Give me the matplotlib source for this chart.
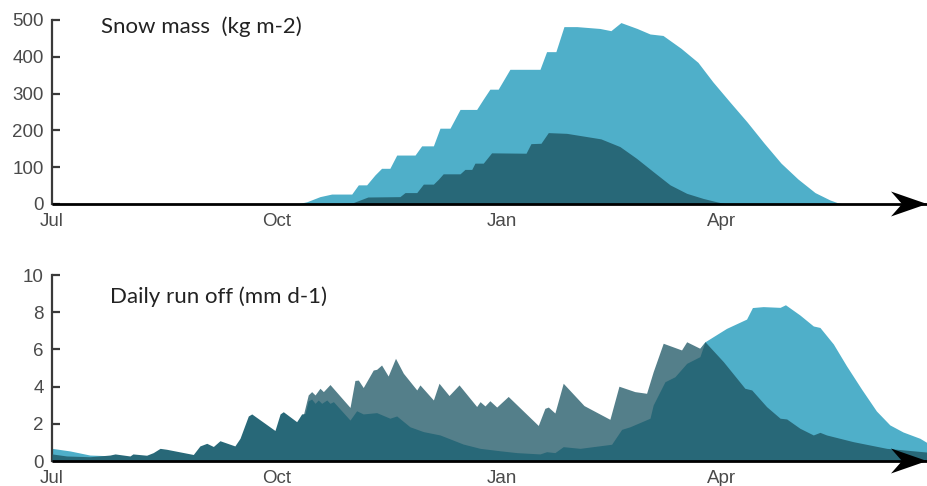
import matplotlib
matplotlib.use("Agg")
import matplotlib.pyplot as plt
import numpy as np
from matplotlib.patches import Polygon
from matplotlib import transforms

# ---------------- data (days since 1 Jul) ----------------
month_ticks = [0, 92, 184, 274]
month_labels = ["Jul", "Oct", "Jan", "Apr"]
x_end = 357.9

# Snow mass (kg m-2)
snow_light_days = [100, 104.2, 109.6, 114.4, 122.6, 125.3, 128.7, 132.1, 134.8, 138.2, 141.0, 148.5,
                   151.2, 156.0, 158.7, 162.8, 166.9, 173.7, 176.4, 179.1, 182.5, 187.3, 199.6, 202.3,
                   206.1, 209.4, 214.7, 224.1, 228.6, 232.7, 239.3, 244.6, 249.9, 257.3, 264.2, 270.3,
                   277.3, 284.3, 291.2, 298.2, 305.1, 312.1, 318.2, 321.1, 324]
snow_light_vals = [0, 6, 20, 27, 27, 52, 52, 79, 97, 97, 133, 133,
                   158, 158, 206, 206, 257, 257, 285, 312, 312, 366, 366, 414,
                   414, 482, 482, 477, 471, 493, 477, 462, 458, 423, 385, 332,
                   277, 223, 166, 111, 68, 31, 11, 4, 0]

snow_dark_days = [116, 123.1, 129.2, 142.3, 144.4, 149.2, 151.9, 156.0, 158.0, 160.0, 166.9, 168.9,
                  171.7, 173.0, 176.4, 179.8, 193.9, 195.9, 200.0, 203.0, 210.5, 224.5, 232.3, 239.1,
                  245.9, 252.8, 259.6, 266.4, 271.9, 276]
snow_dark_vals = [0, 3.5, 19, 20, 31, 31, 54, 54, 67, 82, 82, 94,
                  94, 111, 111, 139, 138, 164, 165, 194, 192, 177, 156, 124,
                  88, 52, 29, 15, 6, 0]

# Daily run off (mm d-1)
run_dark_days = [0, 6, 15.5, 23.7, 25.8, 31.9, 33.1, 38.7, 41.4, 44.2, 46.9, 57.8, 60.5, 63.3, 66,
                 68.7, 74.8, 76.9, 80.3, 81.7, 91.2, 93.3, 94.6, 100.1, 102.1, 103.5, 104.8, 106.2,
                 107.6, 108.9, 110.3, 112.4, 113.7, 115.1, 121.9, 124.6, 127.3, 132.8, 138.2, 141.0,
                 146.4, 151.9, 158.7, 168.2, 175.1, 183.2, 190.1, 199.6, 202.3, 205.7, 209.1, 216.0,
                 228.9, 233.0, 236.4, 244.6, 245.9, 250.7, 254.8, 259.6, 265.0, 267.1, 274.6, 283.4,
                 286.2, 292.3, 297.8, 300.5, 305.9, 311.4, 314.1, 316.8, 327.7, 341.4, 357.9]
run_dark_vals = [0.38, 0.27, 0.23, 0.32, 0.38, 0.27, 0.38, 0.31, 0.45, 0.68, 0.63, 0.35, 0.81, 0.95, 0.78,
                 1.09, 0.81, 1.22, 2.42, 2.53, 1.64, 2.53, 2.65, 2.11, 2.53, 2.55, 3.23, 3.33,
                 3.10, 3.28, 3.10, 3.28, 3.10, 3.19, 2.20, 2.70, 2.53, 2.60, 2.30, 2.42,
                 1.84, 1.58, 1.40, 0.91, 0.68, 0.55, 0.45, 0.38, 0.50, 0.45, 0.77, 0.68,
                 0.90, 1.70, 1.84, 2.30, 3.01, 4.26, 4.53, 5.25, 5.61, 6.41, 5.34, 3.91,
                 3.82, 2.92, 2.30, 2.26, 1.76, 1.40, 1.54, 1.40, 1.04, 0.68, 0.48]

run_grey_days = [100.1, 102.8, 104.8, 106.2, 107.6, 109.6, 111.0, 113.7, 121.9, 123.9, 125.3, 127.3,
                 131.4, 132.8, 134.8, 137.5, 140.5, 143.7, 149.2, 150.5, 156.0, 158.3, 162.4, 166.5,
                 173.7, 175.1, 177.1, 179.1, 181.9, 186.6, 198.9, 201.6, 203.0, 205.7, 209.1, 217.6,
                 228.2, 231.9, 238.4, 243.2, 245.9, 250.0, 257.5, 259.6, 265.0, 267.1, 270]
run_grey_vals = [2.11, 2.47, 3.55, 3.73, 3.55, 3.91, 3.73, 4.11, 2.88, 4.33, 4.35, 3.95,
                 4.89, 4.93, 5.16, 4.57, 5.52, 4.72, 3.82, 4.09, 3.28, 4.18, 3.52, 4.09,
                 2.93, 3.19, 2.96, 3.24, 2.90, 3.47, 1.91, 2.83, 2.90, 2.58, 4.18, 2.98,
                 2.24, 4.02, 3.73, 3.64, 4.80, 6.33, 5.97, 6.41, 6.06, 6.41, 5.5]

run_light_early_days = [0, 7.4, 15.5, 24]
run_light_early_vals = [0.68, 0.54, 0.32, 0.28]
run_light_late_days = [259.6, 267.1, 275.9, 284.1, 286.5, 290.9, 297.8, 300.0, 305.9, 311.4, 314.1,
                       319.6, 325.0, 331.1, 337.2, 342.7, 348.1, 355.0, 357.9]
run_light_late_vals = [5.2, 6.41, 7.13, 7.63, 8.25, 8.30, 8.26, 8.40, 7.85, 7.26, 7.18,
                       6.29, 5.11, 3.87, 2.69, 1.94, 1.56, 1.22, 0.99]

# ---------------- style ----------------
LIGHT = "#4FAFC9"
GREY = "#547F8A"
DARK = "#286878"
SPINE = "#3a3a3a"
TICKC = "#4a4a4a"

W, H = 927, 486
fig = plt.figure(figsize=(W / 100, H / 100), dpi=100)

ax1 = fig.add_axes([52 / W, 1 - 204 / H, 1 - 52 / W, (204 - 20) / H])
ax2 = fig.add_axes([52 / W, 1 - 461 / H, 1 - 52 / W, (461 - 275) / H])


def style(ax, ylim, yticks):
    ax.set_xlim(0, x_end)
    ax.set_ylim(*ylim)
    for s in ["top", "right", "bottom"]:
        ax.spines[s].set_visible(False)
    ax.spines["left"].set_color(SPINE)
    ax.spines["left"].set_linewidth(1.6)
    ax.set_yticks(yticks)
    ax.set_xticks(month_ticks)
    ax.set_xticklabels(month_labels)
    ax.tick_params(axis="y", direction="in", length=6, width=1.6, color=SPINE,
                   labelsize=13.5, labelcolor=TICKC, pad=6)
    ax.tick_params(axis="x", length=0, labelsize=13.5, labelcolor=TICKC, pad=6.5)
    for lab in ax.get_xticklabels() + ax.get_yticklabels():
        lab.set_fontfamily(["Liberation Sans", "DejaVu Sans"])
    ax.patch.set_alpha(0)
    # axis line with stealth arrow head
    anchor = transforms.blended_transform_factory(ax.transAxes, ax.transData)
    ax.plot([0, 1], [0, 0], transform=anchor, color="black", lw=2.0,
            clip_on=False, zorder=5, solid_capstyle="butt")
    tr = fig.dpi_scale_trans + transforms.ScaledTranslation(1, 0, anchor)
    head = np.array([[0, 0], [-36, 12.5], [-25, 0], [-36, -12.5]]) / 100.0
    ax.add_patch(Polygon(head, closed=True, transform=tr, facecolor="black",
                         edgecolor="none", clip_on=False, zorder=6))


style(ax1, (0, 500), [0, 100, 200, 300, 400, 500])
style(ax2, (0, 10), [0, 2, 4, 6, 8, 10])

ax1.fill_between(snow_light_days, snow_light_vals, 0, color=LIGHT, lw=0, zorder=2)
ax1.fill_between(snow_dark_days, snow_dark_vals, 0, color=DARK, lw=0, zorder=3)

ax2.fill_between(run_light_early_days, run_light_early_vals, 0, color=LIGHT, lw=0, zorder=2)
ax2.fill_between(run_light_late_days, run_light_late_vals, 0, color=LIGHT, lw=0, zorder=2)
ax2.fill_between(run_grey_days, run_grey_vals, 0, color=GREY, lw=0, zorder=3)
ax2.fill_between(run_dark_days, run_dark_vals, 0, color=DARK, lw=0, zorder=4)

ax1.text((101 - 52) / 875, (204 - 33) / 184, "Snow mass  (kg m-2)", transform=ax1.transAxes,
         fontsize=16, family=["Lato", "DejaVu Sans"], weight="normal", color="#222222",
         va="baseline", ha="left")
ax2.text((110 - 52) / 875, (461 - 302.7) / 186, "Daily run off (mm d-1)", transform=ax2.transAxes,
         fontsize=16, family=["Lato", "DejaVu Sans"], weight="normal", color="#222222",
         va="baseline", ha="left")

fig.savefig("out.png", dpi=100)
